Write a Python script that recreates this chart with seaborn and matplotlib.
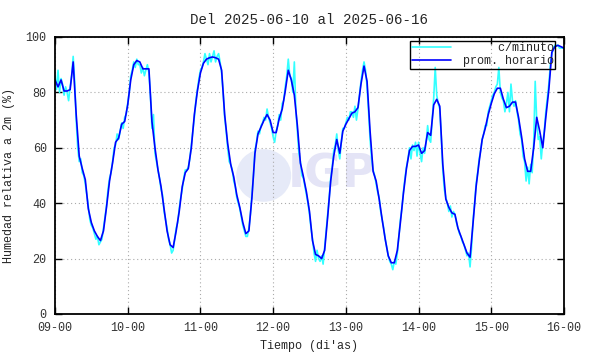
import numpy as np
import pandas as pd
import matplotlib
matplotlib.use("Agg")
import matplotlib.pyplot as plt
import seaborn as sns
from matplotlib.patches import Ellipse

# promedio horario (%), una muestra por hora desde 09-00
prom_horario = [
    84.5, 82, 84.5, 80.5, 80.5, 81, 91, 72, 57, 52.5, 48.5, 38, 33, 30, 28, 26.5, 30, 38.5, 48, 54.5, 62, 63.5, 68.5, 69.5,
    75.5, 84.5, 90, 91.5, 91, 88.5, 88.5, 88.5, 69.5, 60, 52, 46, 38, 30, 25, 24, 30, 37, 46, 51, 52.5, 60, 72, 80.5,
    87, 90.5, 92, 92.5, 92.8, 92.5, 92, 88, 72, 61.5, 54, 49.5, 43, 38.5, 33, 29, 30, 42, 58, 65, 67.5, 70, 72, 70,
    65.5, 65.5, 70.5, 74, 80.5, 88, 84.5, 79, 68, 54.5, 49.5, 44, 37, 26.5, 21.5, 21, 20, 23, 35, 48, 57, 63, 58, 66,
    68.5, 70.5, 72.5, 73, 74.5, 83, 89.5, 84, 66, 51.5, 48, 41.5, 34, 27, 21, 18.5, 18.5, 23, 33, 43.5, 52.5, 59, 60.5, 60.5,
    61, 58, 59, 65.5, 64.5, 75.5, 77.5, 75, 54, 41.5, 38.5, 36.5, 36, 31, 28, 25, 22, 20.5, 33, 46, 55, 63, 67, 72,
    76, 79.5, 81.5, 81.5, 77.5, 74.5, 75, 76.5, 76.5, 71, 64, 56, 51.5, 51.5, 60, 71, 66, 60, 71, 81, 94.5, 96.5, 97, 96.5,
    96,
]

# serie "c/minuto" leida cada media hora
c_minuto = [
    86, 81, 88, 80, 85, 83, 79, 82, 80, 77, 82, 86, 93, 84, 70, 60, 55, 56, 51, 50, 47, 43, 39, 34,
    32, 31, 29, 27, 28, 25, 26, 27, 31, 35, 39, 45, 49, 51, 55, 60, 61, 65, 63, 66, 69, 67, 71, 72,
    76, 80, 86, 88, 91, 89, 92, 90, 90, 87, 89, 86, 88, 90, 87, 79, 67, 72, 58, 55, 52, 49, 45, 43,
    37, 34, 31, 27, 25, 22, 23, 27, 31, 33, 38, 42, 45, 49, 52, 52, 53, 56, 61, 66, 71, 77, 81, 85,
    88, 89, 91, 94, 92, 90, 94, 91, 93, 95, 91, 93, 94, 91, 87, 80, 71, 66, 60, 55, 54, 52, 48, 46,
    42, 40, 38, 35, 32, 30, 28, 28, 31, 36, 43, 50, 59, 62, 66, 65, 68, 69, 71, 70, 74, 71, 69, 67,
    64, 62, 66, 68, 72, 70, 76, 77, 82, 86, 92, 86, 85, 80, 91, 74, 66, 58, 55, 50, 49, 46, 43, 40,
    36, 31, 27, 22, 19, 23, 20, 19, 21, 18, 24, 30, 36, 42, 49, 53, 59, 61, 65, 59, 56, 62, 67, 67,
    69, 71, 70, 73, 73, 71, 75, 70, 74, 79, 84, 88, 91, 88, 82, 73, 63, 56, 52, 50, 47, 44, 42, 37,
    34, 31, 27, 24, 21, 19, 18, 16, 19, 18, 22, 28, 34, 38, 44, 49, 53, 56, 60, 56, 61, 59, 62, 57,
    62, 58, 55, 60, 58, 62, 68, 63, 62, 70, 78, 89, 79, 76, 74, 64, 52, 45, 42, 40, 37, 39, 35, 37,
    36, 33, 31, 29, 28, 26, 25, 23, 21, 22, 17, 24, 34, 40, 47, 51, 56, 59, 63, 65, 68, 68, 73, 75,
    77, 79, 80, 82, 83, 89, 80, 78, 77, 73, 76, 80, 73, 83, 77, 75, 77, 73, 70, 65, 63, 57, 55, 48,
    53, 47, 54, 51, 62, 84, 70, 63, 64, 56, 62, 66, 73, 78, 83, 90, 94, 96, 97, 97, 97, 96, 96, 96,
    96,
]

dias = ["09-00", "10-00", "11-00", "12-00", "13-00", "14-00", "15-00", "16-00"]
y_ticks = [0, 20, 40, 60, 80, 100]

df_h = pd.DataFrame({"hora": np.arange(len(prom_horario)), "hr": prom_horario})
df_m = pd.DataFrame({"hora": np.arange(len(c_minuto)) * 0.5, "hr": c_minuto})

sns.set_style("ticks")
plt.rcParams["font.family"] = ["Liberation Mono", "DejaVu Sans Mono"]
plt.rcParams["font.size"] = 8.5

fig = plt.figure(figsize=(5.9, 3.54), dpi=100)
ax = fig.add_axes([0.0932, 0.113, 0.8627, 0.7825])

# marca de agua IGP
ax.add_patch(Ellipse((0.41, 0.50), 0.108, 0.19, transform=ax.transAxes,
                     facecolor="#e6eaf8", edgecolor="none", zorder=0.5))
ax.text(0.458, 0.50, "IGP", transform=ax.transAxes, fontsize=33, fontweight="bold",
        family="DejaVu Sans", color="#e4e4f6", va="center", ha="left", zorder=0.5)

sns.lineplot(data=df_m, x="hora", y="hr", ax=ax, color="#33ffff", lw=1.2, label="     c/minuto")
sns.lineplot(data=df_h, x="hora", y="hr", ax=ax, color="#0000ff", lw=1.2, label="prom. horario")

ax.set_xlim(0, 168)
ax.set_ylim(0, 100)
ax.set_xticks(np.arange(len(dias)) * 24)
ax.set_xticklabels(dias)
ax.set_yticks(y_ticks)
ax.grid(True, color="#aaaaaa", linestyle=(0, (1, 2.5)), linewidth=0.8)
ax.tick_params(direction="in", length=5, width=1, top=True, right=True, colors="black",
               labelcolor="#333333", pad=6)
for s in ax.spines.values():
    s.set_linewidth(1.3)
    s.set_color("black")

ax.set_xlabel("Tiempo (di'as)", labelpad=4)
ax.set_ylabel("Humedad relativa a 2m (%)", labelpad=8)
ax.set_title("Del 2025-06-10 al 2025-06-16", pad=9)

leg = ax.legend(loc="upper right", bbox_to_anchor=(0.983, 0.987), frameon=True, fancybox=False,
                edgecolor="black", borderpad=0.15, labelspacing=0.05,
                handlelength=3.3, handletextpad=1.0, borderaxespad=0)
leg.get_frame().set_facecolor("none")
leg.get_frame().set_alpha(None)
leg.get_frame().set_linewidth(1.0)

fig.savefig("out.png", dpi=100)
